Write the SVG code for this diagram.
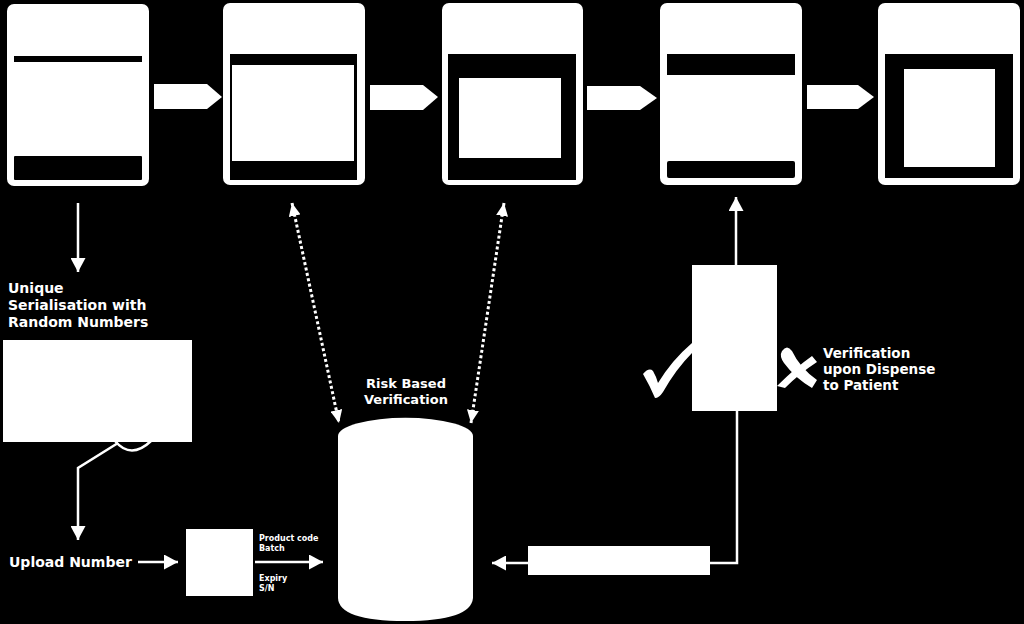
<svg xmlns="http://www.w3.org/2000/svg" width="1024" height="624" viewBox="0 0 1024 624">
<style>
.w{fill:#fff}
.k{fill:#000}
.ln{stroke:#fff;stroke-width:2.5;fill:none}
.dt{stroke:#fff;stroke-width:3;fill:none;stroke-dasharray:3 2.5}
.t{font-family:"DejaVu Sans",sans-serif;font-weight:bold;fill:#fff}
</style>
<defs>
<marker id="ah" markerUnits="userSpaceOnUse" markerWidth="14" markerHeight="15" refX="14" refY="7.5" orient="auto-start-reverse"><path d="M0,0 L14,7.5 L0,15 Z" fill="#fff"/></marker>
<marker id="dh" markerUnits="userSpaceOnUse" markerWidth="13" markerHeight="12" refX="13" refY="6" orient="auto-start-reverse"><path d="M0,0 L13,6 L0,12 Z" fill="#fff"/></marker>
</defs>
<rect width="1024" height="624" fill="#000"/>
<g id="box1"><rect class="w" x="7" y="4" width="142" height="182" rx="7"/><rect class="k" x="14" y="56" width="128" height="6"/><rect class="k" x="14" y="156" width="128" height="24" rx="1"/></g>
<g id="box2"><rect class="w" x="223" y="3" width="142" height="182" rx="7"/><rect class="k" x="230" y="54" width="127" height="126"/><rect class="w" x="232" y="65" width="122" height="96"/></g>
<g id="box3"><rect class="w" x="442" y="3" width="141" height="182" rx="7"/><rect class="k" x="448" y="54" width="128" height="126"/><rect class="w" x="459" y="78" width="102" height="80"/></g>
<g id="box4"><rect class="w" x="660" y="3" width="142" height="182" rx="7"/><rect class="k" x="667" y="54" width="128" height="21"/><rect class="k" x="667" y="161" width="128" height="17" rx="2"/></g>
<g id="box5"><rect class="w" x="878" y="3" width="142" height="182" rx="7"/><rect class="k" x="885" y="54" width="128" height="124"/><rect class="w" x="904" y="69" width="91" height="98"/></g>
<g id="serial"><rect class="w" x="3" y="340" width="189" height="102"/><text class="t" font-size="14"><tspan x="8" y="293">Unique</tspan><tspan x="8" y="310">Serialisation with</tspan><tspan x="8" y="327">Random Numbers</tspan></text></g>
<g id="upload"><text class="t" x="9" y="567" font-size="14">Upload Number</text></g>
<g id="label"><rect class="w" x="186" y="529" width="67" height="67"/><text class="t" font-size="8"><tspan x="259" y="541">Product code</tspan><tspan x="259" y="551">Batch</tspan><tspan x="259" y="581">Expiry</tspan><tspan x="259" y="591">S/N</tspan></text></g>
<g id="database"><path class="w" d="M338,436 A67,18 0 0 1 473,436 L473,598 Q471,621 405,621 Q339,621 338,598 Z"/><text class="t" font-size="13" text-anchor="middle"><tspan x="406" y="388">Risk Based</tspan><tspan x="406" y="404">Verification</tspan></text></g>
<g id="dispense"><rect class="w" x="692" y="265" width="85" height="146"/>
<path class="w" d="M643,374 Q649,367 653,371 Q656,376 658,383 Q672,360 692,343 L692,353 Q676,369 663,392 Q659,398 655,398 Q650,386 643,374 Z"/>
<path class="w" d="M782,351 Q787,344 792,351 Q800,368 817,380 L812,388 Q795,378 784,363 Q779,356 782,351 Z"/>
<path class="w" d="M812,356 L817,362 Q800,373 785,388 L777,386 Q795,368 812,356 Z"/>
<text class="t" font-size="13.5"><tspan x="823" y="358">Verification</tspan><tspan x="823" y="374">upon Dispense</tspan><tspan x="823" y="390">to Patient</tspan></text></g>
<g id="record"><rect class="w" x="528" y="546" width="182" height="29"/></g>
<g id="connectors">
<polygon class="w" points="154,84 207,84 222,97 207,109 154,109"/>
<polygon class="w" points="370,85 423,85 438,97 423,110 370,110"/>
<polygon class="w" points="587,86 640,86 657,98 640,110 587,110"/>
<polygon class="w" points="807,85 858,85 874,97 858,109 807,109"/>
<line class="ln" x1="78" y1="203" x2="78" y2="272" marker-end="url(#ah)"/>
<path class="ln" d="M115,441 Q131,460 151,441"/>
<polyline class="ln" points="118,443 78,468 78,540" marker-end="url(#ah)"/>
<line class="ln" x1="138" y1="562" x2="178" y2="562" marker-end="url(#ah)"/>
<line class="ln" x1="255" y1="562" x2="323" y2="562" marker-end="url(#ah)"/>
<line class="dt" x1="292" y1="203" x2="339" y2="423" marker-start="url(#dh)" marker-end="url(#dh)"/>
<line class="dt" x1="504" y1="203" x2="471" y2="423" marker-start="url(#dh)" marker-end="url(#dh)"/>
<line class="ln" x1="736" y1="265" x2="736" y2="197" marker-end="url(#ah)"/>
<polyline class="ln" points="737,411 737,563 710,563"/>
<line class="ln" x1="528" y1="563" x2="492" y2="563" marker-end="url(#ah)"/>
</g>
</svg>
